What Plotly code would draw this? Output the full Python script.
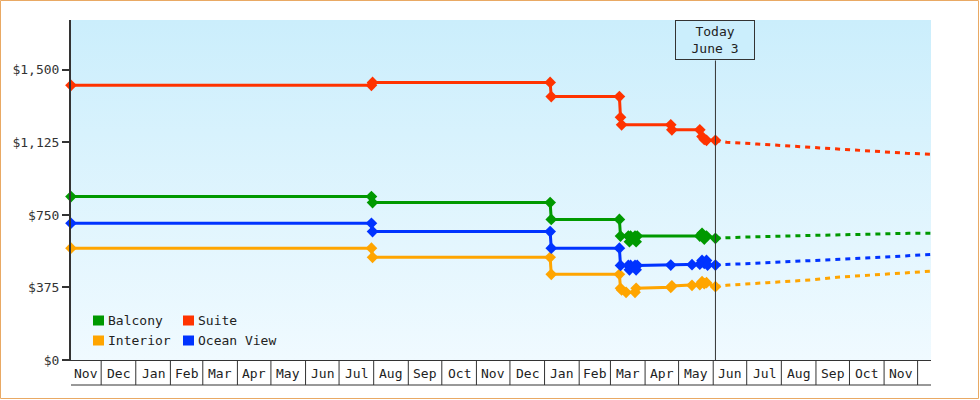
import plotly.graph_objects as go
import pandas as pd

# ---------------- data ----------------
x_start = "2023-11-04"
x_end = "2025-12-13"
y_max = 1758
today = "2025-06-03"
today_label = "Today<br>June 3"

y_ticks = [0, 375, 750, 1125, 1500]
y_tick_text = ["$0", "$375", "$750", "$1,125", "$1,500"]

series_names = ["Balcony", "Suite", "Interior", "Ocean View"]
series_colors = ["#009900", "#ff3300", "#ffa500", "#0033ff"]

balcony_dates = ["2023-11-04", "2024-07-30", "2024-07-31", "2025-01-06", "2025-01-07",
                 "2025-03-09", "2025-03-10", "2025-03-17", "2025-03-18", "2025-03-19",
                 "2025-03-23", "2025-03-24", "2025-03-25", "2025-05-20", "2025-05-22",
                 "2025-05-24", "2025-05-26", "2025-06-03"]
balcony_values = [845, 845, 814, 814, 727,
                  727, 641, 641, 612, 641,
                  641, 612, 641, 641, 655,
                  625, 641, 629]

suite_dates = ["2023-11-04", "2024-07-30", "2024-07-31", "2025-01-06", "2025-01-07",
               "2025-03-09", "2025-03-10", "2025-03-11", "2025-04-24", "2025-04-25",
               "2025-05-20", "2025-05-22", "2025-05-24", "2025-05-26", "2025-06-03"]
suite_values = [1420, 1420, 1435, 1435, 1362,
                1362, 1255, 1216, 1216, 1190,
                1190, 1155, 1140, 1136, 1136]

interior_dates = ["2023-11-04", "2024-07-30", "2024-07-31", "2025-01-06", "2025-01-07",
                  "2025-03-09", "2025-03-10", "2025-03-11", "2025-03-15", "2025-03-23",
                  "2025-03-24", "2025-04-24", "2025-04-25", "2025-05-13", "2025-05-20",
                  "2025-05-22", "2025-05-24", "2025-05-26", "2025-06-03"]
interior_values = [578, 578, 531, 531, 443,
                   443, 371, 362, 350, 350,
                   371, 376, 383, 386, 390,
                   405, 395, 400, 379]

ocean_dates = ["2023-11-04", "2024-07-30", "2024-07-31", "2025-01-06", "2025-01-07",
               "2025-03-09", "2025-03-10", "2025-03-17", "2025-03-18", "2025-03-19",
               "2025-03-23", "2025-03-24", "2025-03-25", "2025-04-24", "2025-05-13",
               "2025-05-20", "2025-05-22", "2025-05-24", "2025-05-26", "2025-05-27",
               "2025-06-03"]
ocean_values = [707, 707, 664, 664, 578,
                578, 489, 489, 466, 489,
                489, 466, 489, 491, 493,
                495, 515, 500, 515, 491,
                491]

# forecasts (dashed)
balcony_fc_dates = ["2025-06-03", "2025-06-21", "2025-08-04", "2025-09-09", "2025-10-17", "2025-11-23", "2025-12-13"]
balcony_fc_values = [629, 634, 641, 646, 652, 655, 655]
suite_fc_dates = ["2025-06-03", "2025-06-13", "2025-07-10", "2025-08-24", "2025-10-08", "2025-11-04", "2025-11-21", "2025-12-13"]
suite_fc_values = [1136, 1126, 1117, 1100, 1084, 1076, 1069, 1064]
interior_fc_dates = ["2025-06-03", "2025-06-13", "2025-07-19", "2025-08-28", "2025-09-20", "2025-10-17", "2025-11-21", "2025-12-13"]
interior_fc_values = [379, 386, 400, 414, 428, 437, 452, 459]
ocean_fc_dates = ["2025-06-03", "2025-06-13", "2025-07-13", "2025-08-18", "2025-09-23", "2025-10-29", "2025-12-13"]
ocean_fc_values = [491, 494, 502, 512, 521, 531, 546]

hist = [(balcony_dates, balcony_values), (suite_dates, suite_values),
        (interior_dates, interior_values), (ocean_dates, ocean_values)]
fc = [(balcony_fc_dates, balcony_fc_values), (suite_fc_dates, suite_fc_values),
      (interior_fc_dates, interior_fc_values), (ocean_fc_dates, ocean_fc_values)]

# ---------------- layout geometry ----------------
W, H = 980, 400
ML, MR, MT, MB = 71, 49, 20, 40
PW, PH = W - ML - MR, H - MT - MB
FONT = "DejaVu Sans Mono"
INK = "#333333"
BG_TOP = "#cbeefc"
BG_BOT = "#f0faff"


def px_x(p):
    return (p - ML) / PW


def px_y(p):
    return (H - MB - p) / PH


fig = go.Figure()

# gradient background of the plot area
fig.add_trace(go.Scatter(
    x=[x_start, x_end, x_end, x_start, x_start],
    y=[0, 0, y_max, y_max, 0],
    mode="lines", line=dict(width=0), fill="toself",
    fillgradient=dict(type="vertical", colorscale=[[0, BG_BOT], [1, BG_TOP]]),
    hoverinfo="skip", showlegend=False,
))

for (d, v), (fd, fv), name, col in zip(hist, fc, series_names, series_colors):
    fig.add_trace(go.Scatter(
        x=fd, y=fv, mode="lines", name=name + " forecast",
        line=dict(color=col, width=3, dash="5px,5px"),
        showlegend=False, hoverinfo="skip",
    ))
for (d, v), name, col in zip(hist, series_names, series_colors):
    fig.add_trace(go.Scatter(
        x=d, y=v, mode="lines+markers", name=name,
        line=dict(color=col, width=3),
        marker=dict(symbol="diamond", size=9, color=col),
        showlegend=False, cliponaxis=False,
    ))

shapes = []
annotations = []

# month boxes below the axis
months = pd.date_range("2023-11-01", "2025-11-01", freq="MS")
xs = pd.Timestamp(x_start)
box_bottom = px_y(385)
for m in months:
    m_end = m + pd.offsets.MonthBegin(1)
    left = max(m, xs)
    mid = left + (m_end - left) / 2
    annotations.append(dict(
        x=mid, y=px_y(373), xref="x", yref="paper", text=m.strftime("%b"),
        showarrow=False, font=dict(family=FONT, size=13, color="#222"),
        xanchor="center", yanchor="middle",
    ))
    shapes.append(dict(type="line", xref="x", yref="paper", x0=m_end, x1=m_end,
                       y0=0, y1=box_bottom, line=dict(color=INK, width=1)))
shapes.append(dict(type="line", xref="x", yref="paper", x0=x_start, x1=x_end,
                   y0=box_bottom, y1=box_bottom, line=dict(color=INK, width=1)))

# today marker
shapes.append(dict(type="line", xref="x", yref="paper", x0=today, x1=today,
                   y0=0, y1=px_y(60.5), line=dict(color=INK, width=1)))
annotations.append(dict(
    x=today, y=1, xref="x", yref="paper", text=today_label, showarrow=False,
    xanchor="center", yanchor="top", font=dict(family=FONT, size=13, color="#222"),
    bgcolor=BG_TOP, bordercolor=INK, borderwidth=1, borderpad=0,
    width=78, height=38,
))

# legend (manual, 2 x 2)
legend_pos = [(93, 320.5), (183, 320.5), (93, 340.5), (183, 340.5)]
for (lx, ly), name, col in zip(legend_pos, series_names, series_colors):
    shapes.append(dict(type="rect", xref="paper", yref="paper",
                       x0=px_x(lx), x1=px_x(lx + 11), y0=px_y(ly + 5), y1=px_y(ly - 5),
                       fillcolor=col, line=dict(width=0)))
    annotations.append(dict(
        x=px_x(lx + 13), y=px_y(ly), xref="paper", yref="paper", text=name,
        showarrow=False, xanchor="left", yanchor="middle",
        font=dict(family=FONT, size=13, color="#222"),
    ))

# outer orange frame
shapes.append(dict(type="rect", xref="paper", yref="paper",
                   x0=px_x(0.5), x1=px_x(978.5), y0=px_y(398.5), y1=px_y(0.5),
                   line=dict(color="#e9a964", width=1), fillcolor="rgba(0,0,0,0)"))

fig.update_layout(
    width=W, height=H,
    margin=dict(l=ML, r=MR, t=MT, b=MB),
    paper_bgcolor="white", plot_bgcolor=BG_BOT,
    showlegend=False,
    shapes=shapes, annotations=annotations,
    font=dict(family=FONT, size=13, color=INK),
    xaxis=dict(range=[x_start, x_end], type="date", showgrid=False, zeroline=False,
               showticklabels=False, ticks="", showline=True, linecolor=INK, linewidth=1),
    yaxis=dict(range=[0, y_max], tickvals=y_ticks, ticktext=y_tick_text,
               showgrid=False, zeroline=False, showline=True, linecolor=INK, linewidth=2,
               ticks="outside", ticklen=7, tickwidth=2, tickcolor=INK,
               tickfont=dict(family=FONT, size=13, color=INK)),
)

fig.write_html("out.html")
